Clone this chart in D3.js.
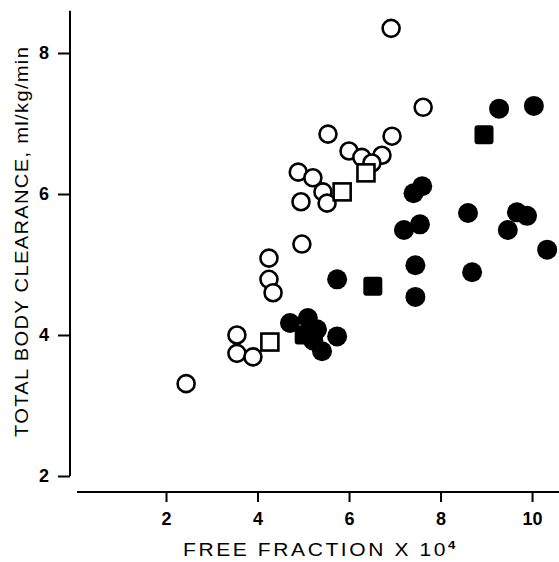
<!DOCTYPE html>
<html>
<head>
<meta charset="utf-8">
<script src="https://cdn.jsdelivr.net/npm/d3@7"></script>
<style>
  body { margin: 0; background: #fff; }
  text { font-family: "Liberation Sans", Arial, sans-serif; fill: #000; }
</style>
</head>
<body>
<svg id="chart"></svg>
<script>
// dữ liệu
const openCircles = [
  [6.92, 8.35], [7.62, 7.23], [5.54, 6.85], [6.94, 6.82], [6.0, 6.61],
  [6.28, 6.52], [6.72, 6.55], [6.5, 6.44], [4.89, 6.31], [5.21, 6.23],
  [5.43, 6.03], [5.52, 5.87], [4.95, 5.89], [4.97, 5.29], [4.25, 5.09],
  [4.25, 4.79], [4.34, 4.6], [3.55, 4.0], [3.55, 3.74], [3.9, 3.69],
  [2.44, 3.31]
];
const openSquares = [[4.27, 3.9], [5.85, 6.03], [6.37, 6.3]];
const filledSquares = [[8.95, 6.84], [6.52, 4.69], [5.02, 4.0]];
const filledCircles = [
  [9.28, 7.21], [10.04, 7.25], [7.6, 6.11], [7.41, 6.01], [8.6, 5.73],
  [9.67, 5.74], [9.89, 5.69], [9.47, 5.49], [10.33, 5.21], [7.55, 5.57],
  [7.2, 5.49], [7.45, 4.99], [8.69, 4.89], [7.45, 4.54], [5.74, 4.79],
  [4.71, 4.17], [5.1, 4.24], [5.74, 3.98], [5.41, 3.77], [5.22, 3.92],
  [5.3, 4.08]
];
const xTicks = [2, 4, 6, 8, 10];
const yTicks = [2, 4, 6, 8];

const width = 559, height = 562;
const svg = d3.select("#chart").attr("width", width).attr("height", height);

const xScale = d3.scaleLinear().domain([0, 10.6]).range([74.5, 559.5]);
const yScale = d3.scaleLinear().domain([2, 8]).range([476, 53]);

// trục Y
svg.append("line")
  .attr("x1", 70).attr("x2", 70)
  .attr("y1", yScale(8.6)).attr("y2", yScale(2))
  .attr("stroke", "#000").attr("stroke-width", 2);

const yAxisG = svg.append("g")
  .attr("transform", "translate(70,0)")
  .call(d3.axisLeft(yScale).tickValues(yTicks).tickFormat(d3.format("d")).tickSize(12).tickPadding(9));
yAxisG.select(".domain").remove();
yAxisG.selectAll(".tick line").attr("stroke-width", 2);
yAxisG.selectAll(".tick text")
  .style("font-size", "18px").style("font-weight", "bold")
  .style("font-family", "Liberation Sans, Arial, sans-serif");

// trục X
svg.append("line")
  .attr("x1", 77).attr("x2", 559)
  .attr("y1", 492).attr("y2", 492)
  .attr("stroke", "#000").attr("stroke-width", 2);

const xAxisG = svg.append("g")
  .attr("transform", "translate(0,492)")
  .call(d3.axisBottom(xScale).tickValues(xTicks).tickSize(10).tickPadding(10));
xAxisG.select(".domain").remove();
xAxisG.selectAll(".tick line").attr("stroke-width", 2);
xAxisG.selectAll(".tick text")
  .style("font-size", "18px").style("font-weight", "bold")
  .style("font-family", "Liberation Sans, Arial, sans-serif");

// nhãn trục (chữ rộng như bản gốc)
svg.append("text")
  .attr("transform", "translate(183,556) scale(1.2,1)")
  .attr("font-size", 17.5)
  .attr("textLength", 227)
  .attr("lengthAdjust", "spacing")
  .html('FREE FRACTION X 10<tspan dy="-7" font-size="11" font-weight="bold">4</tspan>');

svg.append("text")
  .attr("transform", "translate(28,437) rotate(-90) scale(1.15,1)")
  .attr("font-size", 17.5)
  .attr("textLength", 339)
  .attr("lengthAdjust", "spacing")
  .text("TOTAL BODY CLEARANCE, ml/kg/min");

// các điểm
const dots = svg.append("g");

dots.selectAll(".oc")
  .data(openCircles)
  .enter().append("circle")
  .attr("class", "oc")
  .attr("cx", d => xScale(d[0]))
  .attr("cy", d => yScale(d[1]))
  .attr("r", 8.5)
  .attr("fill", "#fff")
  .attr("stroke", "#000")
  .attr("stroke-width", 2.6);

dots.selectAll(".os")
  .data(openSquares)
  .enter().append("rect")
  .attr("class", "os")
  .attr("x", d => xScale(d[0]) - 8.5)
  .attr("y", d => yScale(d[1]) - 8.5)
  .attr("width", 17).attr("height", 17)
  .attr("fill", "#fff")
  .attr("stroke", "#000")
  .attr("stroke-width", 2.6);

dots.selectAll(".fc")
  .data(filledCircles)
  .enter().append("circle")
  .attr("class", "fc")
  .attr("cx", d => xScale(d[0]))
  .attr("cy", d => yScale(d[1]))
  .attr("r", 10)
  .attr("fill", "#000");

dots.selectAll(".fs")
  .data(filledSquares)
  .enter().append("rect")
  .attr("class", "fs")
  .attr("x", d => xScale(d[0]) - 9.5)
  .attr("y", d => yScale(d[1]) - 9.5)
  .attr("width", 19).attr("height", 19)
  .attr("rx", 3)
  .attr("fill", "#000");
</script>
</body>
</html>
